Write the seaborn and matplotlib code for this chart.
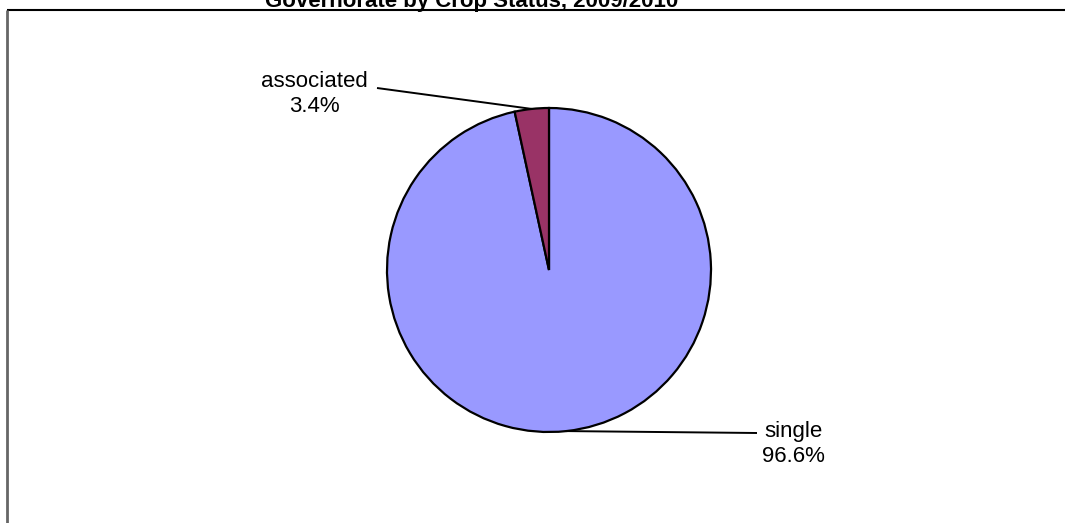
import matplotlib
matplotlib.use("Agg")
import matplotlib.pyplot as plt
import seaborn as sns
import numpy as np

# ---- data ----
categories = ["single", "associated"]
values = [96.6, 3.4]
colors = ["#9999FF", "#993366"]
title = "Governorate by Crop Status, 2009/2010"

sns.set_theme(style="white")
plt.rcParams['font.family'] = ['Liberation Sans', 'DejaVu Sans']

W, H = 1065, 523
fig = plt.figure(figsize=(W / 100, H / 100), dpi=100)
fig.patch.set_facecolor("white")
ax = fig.add_axes([0, 0, 1, 1])

# layout (pixel units, y measured from top then flipped)
cx, cy, r = 549, H - 270, 162
wedges, _ = ax.pie(values, colors=colors, startangle=90, counterclock=False,
                   radius=r, center=(cx, cy), frame=True,
                   wedgeprops=dict(edgecolor="black", linewidth=1.6))
ax.set_xlim(0, W)
ax.set_ylim(0, H)
ax.set_aspect("equal")
ax.set_axis_off()

# label layout: (line end x, line end y from top, text center x, first baseline from top)
label_layout = {
    "associated": (377, 88, 314, 87),
    "single": (757, 433, 793, 437),
}
fs = 16
for w, cat, v in zip(wedges, categories, values):
    mid = np.deg2rad((w.theta1 + w.theta2) / 2)
    ex, ey = cx + r * np.cos(mid), cy + r * np.sin(mid)
    lx, ly, tx, tb = label_layout[cat]
    ax.plot([lx, ex], [H - ly, ey], color="black", lw=1.4, solid_capstyle="butt", zorder=5)
    ax.text(tx, H - tb, cat, ha="center", va="baseline", fontsize=fs, color="black")
    ax.text(tx, H - tb - 25, f"{v:.1f}%", ha="center", va="baseline", fontsize=fs, color="black")

# title (clipped at top as in reference)
ax.text(472, H - 7, title, ha="center", va="baseline", fontsize=16,
        fontweight="bold", color="black")

# chart frame
ax.plot([7, W + 5], [H - 10, H - 10], color="black", lw=1.5, solid_capstyle="butt", clip_on=False)
ax.plot([7, 7], [H - 10, -5], color="#666666", lw=2.0, solid_capstyle="butt", clip_on=False)

fig.savefig("out.png", dpi=100, facecolor="white")
